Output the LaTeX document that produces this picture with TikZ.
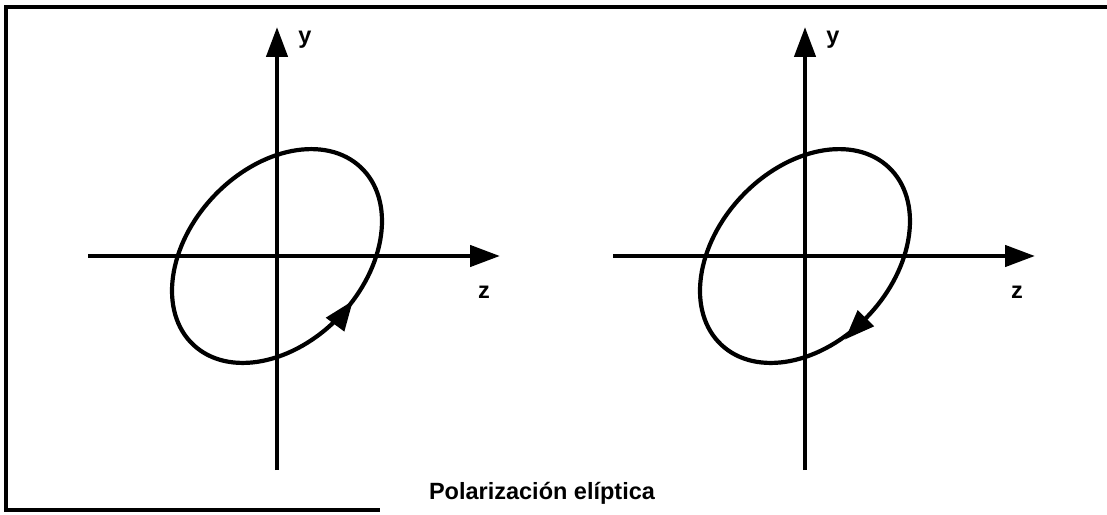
\documentclass[tikz,border=0pt]{standalone}
\usepackage{fontspec}
\setmainfont{Liberation Sans}
\usetikzlibrary{arrows.meta,decorations.markings}
\begin{document}
\begin{tikzpicture}[x=1pt,y=1pt,
    axis/.style={line width=4.5pt,-{Triangle[length=30pt,width=21pt]}},
    orbit/.style={line width=4.2pt},
    lbl/.style={font=\fontsize{23.5}{28}\selectfont\bfseries,inner sep=0pt}]
            \useasboundingbox (0,0) rectangle (1107,514);
            \def\ea{122pt}
            \def\eb{87pt}
            \def\tilt{46.6}
            % frame
            \draw[line width=3.5pt]
                (1107,507)--(6,507)--(6,4)--(380,4);
            \foreach \s/\cx/\zs/\ze/\zl/\pos/\tip in
                {L/277/88/500/484/0.78/{Triangle[length=30pt,width=22pt]},
                 R/805/613/1035/1017/0.745/{Triangle[length=30pt,width=22pt,reversed]}}
            {\coordinate (o\s) at (\cx,258);
             \coordinate (zs\s) at (\zs,258);
             \coordinate (ze\s) at (\ze,258);
             \coordinate (ys\s) at (\cx,44);
             \coordinate (ye\s) at (\cx,487);
             \draw[axis] (zs\s)--(ze\s);
             \draw[axis] (ys\s)--(ye\s);
             \node[lbl] (ylab\s) at (\cx+28,474) {y};
             \node[lbl] (zlab\s) at (\zl,222) {z};
             \draw[orbit,rotate around={\tilt:(o\s)},
                postaction={decorate},
                decoration={markings,
                    mark=at position \pos with {\arrow{\tip}}}]
                (o\s) ellipse [x radius=\ea,y radius=\eb];}
            \node[lbl] (caption) at (542,21) {Polarización elíptica};
            \end{tikzpicture}
\end{document}
